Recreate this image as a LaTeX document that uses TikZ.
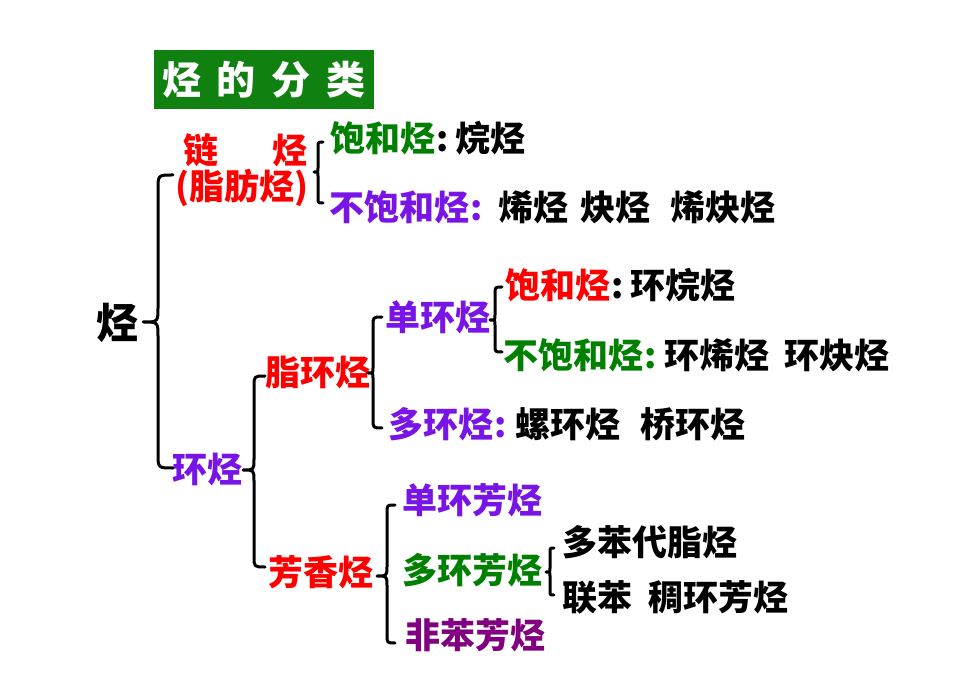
\documentclass[tikz,border=0pt]{standalone}
\usepackage{fontspec}
\setmainfont{Noto Sans CJK SC}
\definecolor{cred}{RGB}{255,0,0}
\definecolor{cgrn}{RGB}{0,128,0}
\definecolor{cvio}{RGB}{120,20,230}
\definecolor{cpur}{RGB}{128,0,128}
\definecolor{cbox}{RGB}{16,128,16}
\newcommand\mycolon[1]{\makebox[#1pt][l]{\hspace{1pt}:}}
\newcommand\mybrace[6]{%
 \pgfmathsetmacro\brA{#1-#3}\pgfmathsetmacro\brB{#3-#4}%
 \draw[brc] (#1,#2) .. controls (#3,#2) .. (#3,{#2+\brA}) -- (#3,{#5-\brB})
   .. controls (#3,#5) .. (#4,#5) .. controls (#3,#5) .. (#3,{#5+\brB})
   -- (#3,{#6-\brA}) .. controls (#3,#6) .. (#1,#6);}
\tikzset{
 lbl/.style={anchor=west, inner sep=0pt, font=\bfseries\fontsize{35}{40}\selectfont},
 brc/.style={line width=3pt, line cap=round, line join=round, black},
 titlebox/.style={fill=cbox, text=white, inner sep=0pt, minimum width=220pt, minimum height=59pt, font=\bfseries\fontsize{39}{44}\selectfont}
}
\begin{document}
\begin{tikzpicture}[x=1pt,y=-1pt]
\useasboundingbox (0,0) rectangle (980,692);
% title
\node[titlebox] (title) at (264,79.5) {烃\hspace{16pt}的\hspace{16pt}分\hspace{16pt}类};
% root
\node[lbl, font=\bfseries\fontsize{42}{46}\selectfont] (root) at (96,323) {烃};
% chain hydrocarbons
\node[lbl, text=cred] (chain) at (183,150) {链\hspace{54pt}烃};
\node[lbl, text=cred] (chainb) at (175,188) {(脂肪烃)};
\node[lbl] (sat) at (330,138) {\textcolor{cgrn}{饱和烃}\mycolon{20}烷烃};
\node[lbl] (unsat) at (329,207) {\textcolor{cvio}{不饱和烃\mycolon{29}}烯烃\hspace{12pt}炔烃\hspace{20pt}烯炔烃};
% cyclic hydrocarbons
\node[lbl, text=cvio] (ring) at (172,470) {环烃};
\node[lbl, text=cred] (alicyc) at (265,373) {脂环烃};
\node[lbl, text=cvio] (mono) at (385,317) {单环烃};
\node[lbl] (msat) at (505,285) {\textcolor{cred}{饱和烃}\mycolon{20}环烷烃};
\node[lbl] (munsat) at (503,355) {\textcolor{cgrn}{不饱和烃\mycolon{21}}环烯烃\hspace{15pt}环炔烃};
\node[lbl] (poly) at (388,424) {\textcolor{cvio}{多环烃\mycolon{22}}螺环烃\hspace{20pt}桥环烃};
% aromatic
\node[lbl, text=cred] (arom) at (268,572) {芳香烃};
\node[lbl, text=cvio] (amono) at (402,500) {单环芳烃};
\node[lbl, text=cgrn] (apoly) at (402,570) {多环芳烃};
\node[lbl, text=cpur] (anon) at (405,635) {非苯芳烃};
\node[lbl] (ap1) at (562,542) {多苯代脂烃};
\node[lbl] (ap2) at (562,597) {联苯\hspace{16pt}稠环芳烃};
% braces
\mybrace{173}{175}{158}{143}{322}{468}
\mybrace{323}{142}{318}{314}{172}{203}
\mybrace{265}{376}{254}{243}{470}{567}
\mybrace{382}{317}{373}{368}{373}{428}
\mybrace{502}{287}{495}{490}{320}{352}
\mybrace{395}{505}{387}{377}{576}{643}
\mybrace{554}{548}{550}{546}{572}{595}
\end{tikzpicture}
\end{document}
